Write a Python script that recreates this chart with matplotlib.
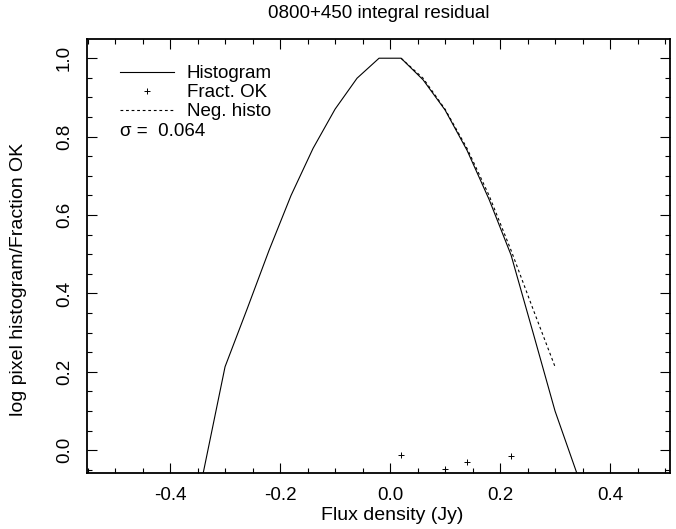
import matplotlib
matplotlib.use("Agg")
import matplotlib.pyplot as plt
from matplotlib.ticker import MultipleLocator, FuncFormatter
from matplotlib.lines import Line2D

plt.rcParams['font.family'] = ['Liberation Sans', 'DejaVu Sans']

# Histogram (solid)
hist_x = [-0.34, -0.30, -0.26, -0.22, -0.18, -0.14, -0.10, -0.06, -0.02,
          0.02, 0.06, 0.10, 0.14, 0.18, 0.22, 0.26, 0.30, 0.34]
hist_y = [-0.06, 0.213, 0.36, 0.51, 0.65, 0.77, 0.870, 0.949, 1.0,
          1.0, 0.945, 0.868, 0.765, 0.64, 0.498, 0.30, 0.10, -0.06]

# Negative histogram mirrored (dashed)
neg_x = [0.02, 0.06, 0.10, 0.14, 0.18, 0.22, 0.26, 0.30]
neg_y = [1.0, 0.949, 0.870, 0.77, 0.65, 0.51, 0.36, 0.213]

# Fraction OK (plus markers)
frac_x = [0.02, 0.10, 0.14, 0.22]
frac_y = [-0.011, -0.047, -0.030, -0.015]

legend_labels = ["Histogram", "Fract. OK", "Neg. histo"]
sigma_text = "σ =  0.064"

FS = 13.5
fig = plt.figure(figsize=(6.76, 5.29), dpi=100)
ax = fig.add_axes([87/676, 1 - 473/529, (670-87)/676, (473-39)/529])

ax.plot(hist_x, hist_y, color='black', lw=0.8)
ax.plot(neg_x, neg_y, color='black', lw=0.8, ls=(0, (2.5, 2.5)))
ax.plot(frac_x, frac_y, ls='none', marker='+', ms=5, mew=0.7, color='black')

ax.set_xlim(-0.551, 0.509)
ax.set_ylim(-0.058, 1.049)

fmt = FuncFormatter(lambda v, p: f"{v:.1f}".replace("-0.0", "0.0"))
ax.xaxis.set_major_locator(MultipleLocator(0.2))
ax.xaxis.set_minor_locator(MultipleLocator(0.05))
ax.yaxis.set_major_locator(MultipleLocator(0.2))
ax.yaxis.set_minor_locator(MultipleLocator(0.05))
ax.xaxis.set_major_formatter(fmt)
ax.yaxis.set_major_formatter(fmt)

ax.tick_params(which='both', direction='in', top=True, right=True, width=0.8, labelsize=FS)
ax.tick_params(which='major', length=7.2)
ax.tick_params(which='minor', length=3.6)
ax.tick_params(axis='x', which='major', pad=10)
ax.tick_params(axis='y', which='major', pad=10)
for lbl in ax.get_yticklabels():
    lbl.set_rotation(90)
    lbl.set_va('center')
for s in ax.spines.values():
    s.set_linewidth(1.3)

ax.set_xlabel("Flux density (Jy)", fontsize=14)
ax.xaxis.set_label_coords(0.523, -0.078)
ax.set_ylabel("log pixel histogram/Fraction OK", fontsize=14)
ax.yaxis.set_label_coords(-0.103, 0.445)
ax.set_title("0800+450 integral residual", fontsize=FS, pad=15)

handles = [Line2D([], [], color='black', lw=0.8),
           Line2D([], [], color='black', ls='none', marker='+', ms=4, mew=0.7),
           Line2D([], [], color='black', lw=0.8, ls=(0, (2.5, 2.5)))]
ax.legend(handles, legend_labels, loc='upper left',
          frameon=False, fontsize=FS, handlelength=2.88, handletextpad=0.68,
          labelspacing=0.1, borderaxespad=0, borderpad=0,
          bbox_to_anchor=(0.0566, 0.940))
ax.text(0.057, 0.786, sigma_text, transform=ax.transAxes, fontsize=FS, va='center', ha='left')

fig.savefig("out.png", dpi=100)
